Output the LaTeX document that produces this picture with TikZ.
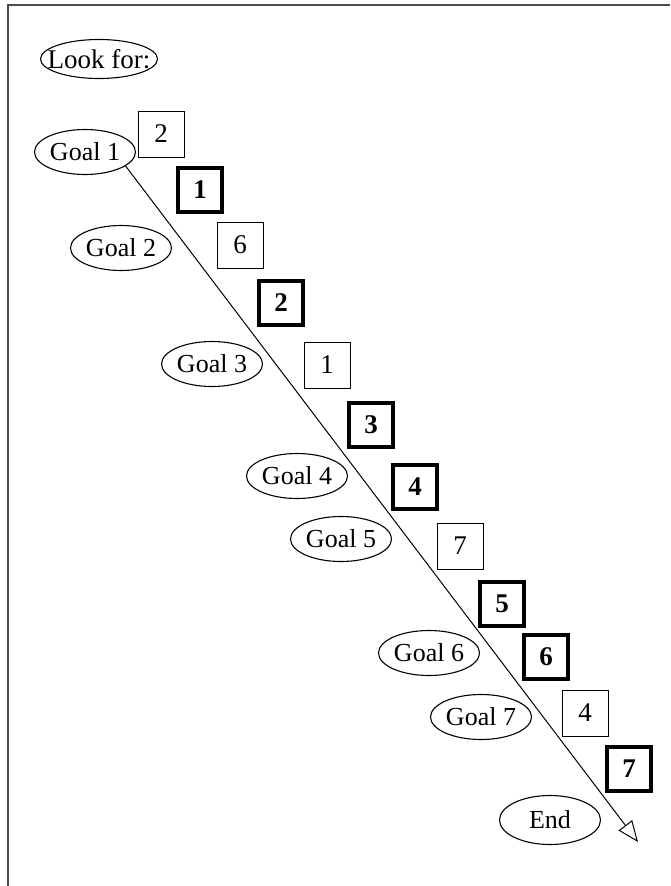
\documentclass[tikz,border=0pt]{standalone}
\usepackage{fontspec}
\setmainfont{Liberation Serif}
\usepackage{tikz}
\usetikzlibrary{shapes, arrows.meta}

\tikzset{
  goalnode/.style={draw, ellipse, line width=1.1pt, inner sep=0pt, minimum width=101pt, minimum height=45pt, font=\fontsize{26}{29}\selectfont},
  plainbox/.style={draw, line width=0.9pt, inner sep=0pt, minimum size=46pt, font=\fontsize{27}{30}\selectfont},
  orderbox/.style={draw, line width=3.6pt, inner sep=0pt, minimum size=44pt, font=\fontsize{27}{30}\selectfont\bfseries},
}

\begin{document}
\begin{tikzpicture}[x=1pt, y=-1pt]
      \useasboundingbox (0,0) rectangle (670,886);
      \draw[line width=1.6pt, black!70] (8,886) -- (8,5) -- (670,5);

      \node[draw, ellipse, line width=1.1pt, inner xsep=-10pt, inner ysep=1pt, minimum height=39pt, font=\fontsize{27}{30}\selectfont] (lookfor) at (99,59) {Look for:};

      \node[goalnode] (goal1) at (85,152) {Goal 1};
      \node[goalnode] (goal2) at (121,248) {Goal 2};
      \node[goalnode] (goal3) at (212,364) {Goal 3};
      \node[goalnode] (goal4) at (297,476) {Goal 4};
      \node[goalnode] (goal5) at (341,539) {Goal 5};
      \node[goalnode] (goal6) at (429,653) {Goal 6};
      \node[goalnode] (goal7) at (481,717) {Goal 7};
      \node[goalnode, minimum height=49pt] (end) at (550,820) {End};

      \node[plainbox] (pick2) at (161,134) {2};
      \node[plainbox] (pick6) at (240,245) {6};
      \node[plainbox] (pick1) at (327,365) {1};
      \node[plainbox] (pick7) at (460,546) {7};
      \node[plainbox] (pick4) at (585,713) {4};

      \node[orderbox] (order1) at (200,190) {1};
      \node[orderbox] (order2) at (281,303) {2};
      \node[orderbox] (order3) at (371,425) {3};
      \node[orderbox] (order4) at (415,487) {4};
      \node[orderbox] (order5) at (502,604) {5};
      \node[orderbox] (order6) at (546,657) {6};
      \node[orderbox] (order7) at (629,769) {7};

      \coordinate (tip) at (638,842);
      \draw[-{Triangle[open, length=21pt, width=17pt]}, line width=1pt] (goal1.-19) -- (tip);
    \end{tikzpicture}
\end{document}
